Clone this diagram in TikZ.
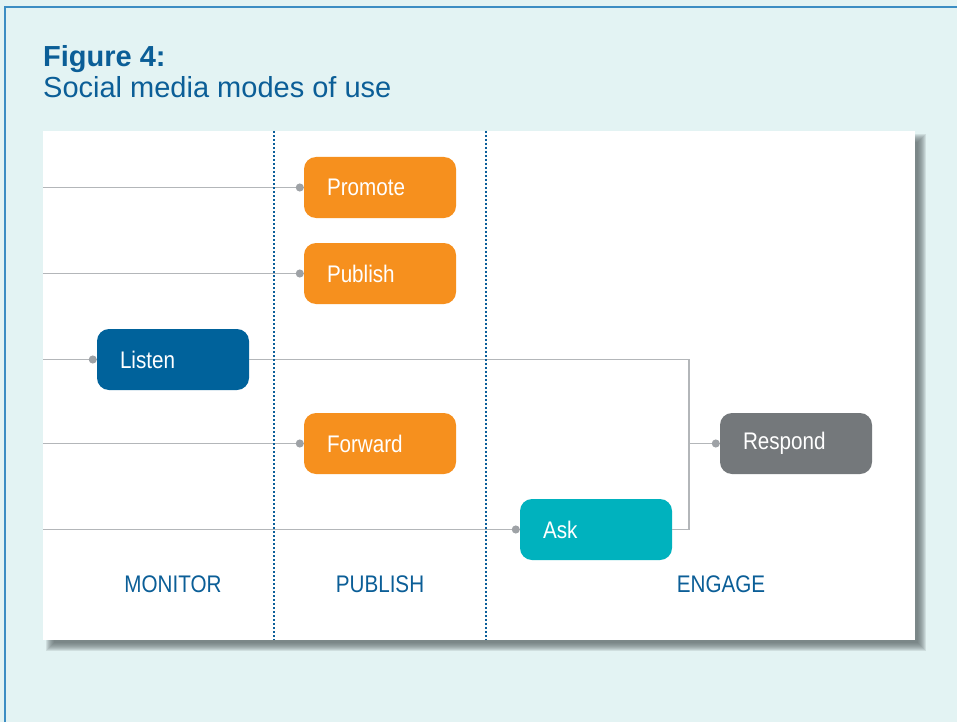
\documentclass[tikz,border=0pt]{standalone}
\usepackage{fontspec}
\setmainfont{Liberation Sans}
\newfontfamily\narrowfont[FakeStretch=0.86]{Liberation Sans}
\usepackage{tikz}
\usetikzlibrary{arrows.meta}
\definecolor{bgteal}{HTML}{E3F3F3}
\definecolor{frameblue}{HTML}{3C8DC3}
\definecolor{titleblue}{HTML}{0B5E97}
\definecolor{dotblue}{HTML}{0A5E9A}
\definecolor{boxorange}{HTML}{F6901E}
\definecolor{boxblue}{HTML}{00629B}
\definecolor{boxteal}{HTML}{00B2BE}
\definecolor{boxgray}{HTML}{74787B}
\definecolor{linegray}{HTML}{B3B6B9}
\definecolor{dotgray}{HTML}{9EA2A6}
\definecolor{shadowgray}{HTML}{5F6A6C}
\tikzstyle{modebox} = [rectangle, rounded corners=12pt, minimum width=152pt, minimum height=61pt, text width=106pt, inner xsep=23pt, inner ysep=0pt, align=left, text=white, font=\narrowfont\fontsize{24}{28}\selectfont]
\tikzstyle{publishbox} = [modebox, fill=boxorange]
\tikzstyle{monitorbox} = [modebox, fill=boxblue]
\tikzstyle{askbox} = [modebox, fill=boxteal]
\tikzstyle{respondbox} = [modebox, fill=boxgray]
\tikzstyle{colhead} = [text=titleblue, font=\narrowfont\fontsize{24}{28}\selectfont]
\tikzstyle{feed} = [line width=1.7pt, draw=linegray, -{Circle[length=8pt,color=dotgray]}]
\tikzstyle{wire} = [line width=1.7pt, draw=linegray]
\tikzstyle{divider} = [line width=2pt, draw=dotblue, dash pattern=on 1.8pt off 2.2pt]

\begin{document}
\begin{tikzpicture}[x=1pt, y=-1pt, node distance=86pt]
		\useasboundingbox (0,0) rectangle (957,722);
		\fill [bgteal] (0,0) rectangle (957,722);
		\draw [frameblue, line width=2pt] (5,722) -- (5,7) -- (957,7);

		\node (figno) [anchor=base west, inner sep=0pt, text=titleblue, font=\bfseries\fontsize{29}{34}\selectfont] at (43,67) {Figure 4:};
		\node (figtitle) [anchor=base west, inner sep=0pt, text=titleblue, font=\fontsize{29}{34}\selectfont] at (43,98) {Social media modes of use};

		% shadow and panel
		\foreach \b in {-4,...,4}
			\fill [shadowgray, opacity=0.15] (50+\b,138+\b) rectangle (922-\b,647-\b);
		\node (panel) [fill=white, minimum width=872pt, minimum height=509pt, inner sep=0pt] at (479,385.5) {};

		\node (promote) [publishbox] at (380,187.5) {Promote};
		\node (publish) [publishbox, below of=promote] {Publish};
		\node (listen) [monitorbox, below of=publish, xshift=-207pt] {Listen};
		\node (forward) [publishbox, below of=publish, yshift=-84pt] {Forward};
		\node (ask) [askbox, below of=forward, xshift=216pt] {Ask};
		\node (respond) [respondbox, right of=forward, xshift=330pt] {Respond};
		\coordinate (merge) at ([xshift=-31pt]respond.west);

		\draw [feed] (panel.west |- promote) -- (promote);
		\draw [feed] (panel.west |- publish) -- (publish);
		\draw [feed] (panel.west |- listen) -- (listen);
		\draw [feed] (panel.west |- forward) -- (forward);
		\draw [feed] (panel.west |- ask) -- (ask);
		\draw [wire] (listen.east) -| (merge) |- (ask.east);
		\draw [feed] (merge) -- (respond);

		\draw [divider] (274,131) -- (274,640);
		\draw [divider] (486,131) -- (486,640);

		\node (monitor) [colhead] at (173,584) {MONITOR};
		\node (publishing) [colhead] at (380,584) {PUBLISH};
		\node (engage) [colhead] at (721,584) {ENGAGE};
	\end{tikzpicture}
\end{document}
